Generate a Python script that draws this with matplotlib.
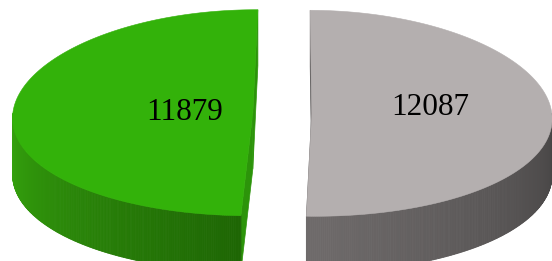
import numpy as np
import matplotlib
matplotlib.use("Agg")
import matplotlib.pyplot as plt
from matplotlib.patches import Polygon

# data
values = [11879, 12087]
labels = ["11879", "12087"]

# style
top_colors = ["#33b20a", "#b4afaf"]
side_light = ["#36a60e", "#6f6b6b"]
side_dark = ["#1e6604", "#464444"]
cut_colors = ["#2c940a", "#5c5959"]
label_r = [0.285, 0.495]
label_dy = [0, -7]

W, H = 552, 261
CX, CY = 282.3, 113
A, B = 240, 103
DEPTH = 56
EXPLODE = 0.1227
PERSP = 0.04      # perspective on the pie shape
PERSP_EX = 0.112  # perspective on the explode offset
START = 89.57     # degrees, first slice starts at the back


def proj(u, v, ex, ey, drop=0.0):
    """Flat pie plane (u right, v back) -> pixel coords, mild perspective."""
    vv = v + ey
    x = CX + A * (u * (1 - PERSP * vv) + ex * (1 - PERSP_EX * vv))
    y = CY - B * vv + drop
    return x, y


fig = plt.figure(figsize=(W / 100, H / 100), dpi=100)
ax = fig.add_axes([0, 0, 1, 1])
ax.set_xlim(0, W)
ax.set_ylim(H, 0)
ax.axis("off")

total = sum(values)
t0 = START
for i, val in enumerate(values):
    t1 = t0 + 360 * val / total
    mid = np.radians((t0 + t1) / 2)
    ex, ey = EXPLODE * np.cos(mid), EXPLODE * np.sin(mid)

    # cut faces along both radii
    for ang in (t0, t1):
        a = np.radians(ang)
        pu, pv = np.cos(a), np.sin(a)
        quad = [proj(0, 0, ex, ey), proj(pu, pv, ex, ey),
                proj(pu, pv, ex, ey, DEPTH), proj(0, 0, ex, ey, DEPTH)]
        ax.add_patch(Polygon(quad, closed=True, fc=cut_colors[i], ec=cut_colors[i], lw=0.5))

    # outer side, only the part facing the viewer
    th = np.radians(np.linspace(t0, t1, 400))
    th = th[np.sin(th) <= 0]
    if len(th) > 1:
        c0 = np.array(matplotlib.colors.to_rgb(side_light[i]))
        c1 = np.array(matplotlib.colors.to_rgb(side_dark[i]))
        n = len(th) - 1
        for k in range(n):
            f = k / max(n - 1, 1)
            col = c0 * (1 - f) + c1 * f
            ua, va = np.cos(th[k]), np.sin(th[k])
            ub, vb = np.cos(th[k + 1]), np.sin(th[k + 1])
            quad = [proj(ua, va, ex, ey), proj(ub, vb, ex, ey),
                    proj(ub, vb, ex, ey, DEPTH), proj(ua, va, ex, ey, DEPTH)]
            ax.add_patch(Polygon(quad, closed=True, fc=col, ec=col, lw=0.6))

    # top face
    th = np.radians(np.linspace(t0, t1, 400))
    pts = [proj(0, 0, ex, ey)] + [proj(np.cos(t), np.sin(t), ex, ey) for t in th]
    ax.add_patch(Polygon(pts, closed=True, fc=top_colors[i], ec=top_colors[i], lw=0.4))

    # value label
    lx, ly = proj(label_r[i] * np.cos(mid), label_r[i] * np.sin(mid), ex, ey)
    ax.text(lx, ly + label_dy[i], labels[i], ha="center", va="center",
            fontsize=22.5, family="Liberation Serif", color="black")

    t0 = t1

fig.savefig("out.png", dpi=100)
